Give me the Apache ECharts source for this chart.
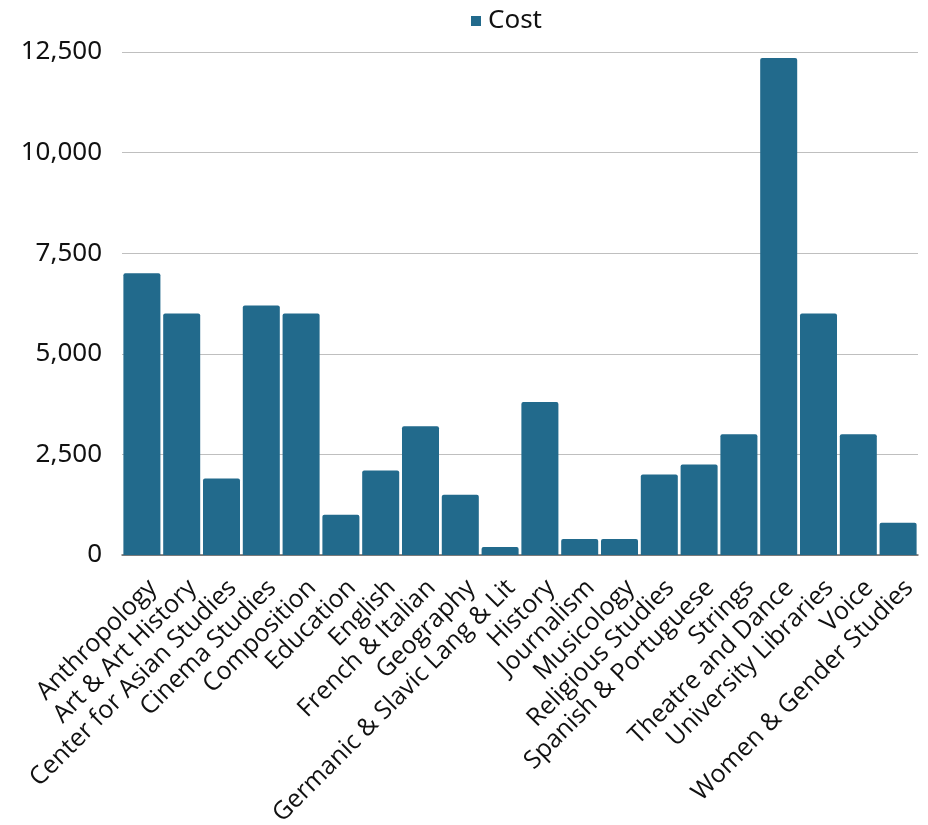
<!DOCTYPE html>
<html><head><meta charset="utf-8">
<script src="https://cdn.jsdelivr.net/npm/echarts@6/dist/echarts.min.js"></script>
<style>html,body{margin:0;padding:0;background:#fff}#c{width:928px;height:825px}</style>
</head><body><div id="c"></div>
<script>
const categories = ["Anthropology","Art & Art History","Center for Asian Studies","Cinema Studies","Composition","Education","English","French & Italian","Geography","Germanic & Slavic Lang & Lit","History","Journalism","Musicology","Religious Studies","Spanish & Portuguese","Strings","Theatre and Dance","University Libraries","Voice","Women & Gender Studies"];
const cost = [7000,6000,1900,6200,6000,1000,2100,3200,1500,200,3800,400,400,2000,2250,3000,12350,6000,3000,800];
const chart = echarts.init(document.getElementById('c'));
chart.setOption({
  animation:false,
  legend:{top:3,left:466,itemWidth:10,itemHeight:10,icon:'rect',itemGap:8,
    textStyle:{fontFamily:'Noto Sans',fontSize:26,color:'#111',padding:[0,0,0,2]}},
  grid:{left:122,right:10,top:52,bottom:270,containLabel:false,outerBoundsMode:'none'},
  xAxis:{type:'category',data:categories,
    axisLine:{lineStyle:{color:'#666',width:1.5}},axisTick:{show:false},
    axisLabel:{rotate:45,interval:0,fontFamily:'Open Sans',fontSize:25,color:'#111',margin:18,
      align:'right',verticalAlign:'top',padding:[3,0,0,0]}},
  yAxis:{type:'value',min:0,max:12500,interval:2500,
    axisLabel:{fontFamily:'Noto Sans',fontSize:26,color:'#111',margin:20,
      formatter:v=>v.toLocaleString('en-US')},
    splitLine:{lineStyle:{color:'#bfbfbf',width:1}}},
  series:[{name:'Cost',type:'bar',data:cost,barCategoryGap:'7%',
    itemStyle:{color:'#226a8c',borderRadius:[2,2,0,0]}}]
});
</script></body></html>
